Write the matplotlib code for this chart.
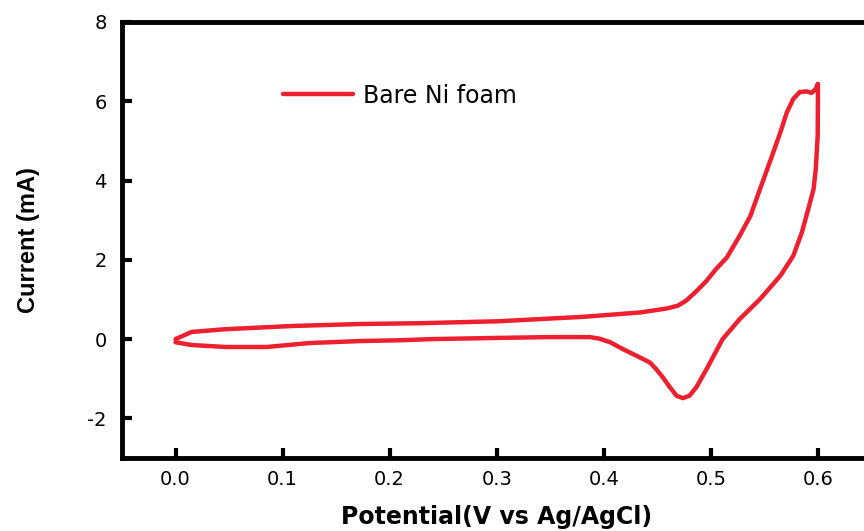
import matplotlib
matplotlib.use("Agg")
import matplotlib.pyplot as plt

plt.rcParams['font.family'] = ['DejaVu Sans']

# Potential (V vs Ag/AgCl) and current (mA) along the CV loop
potential = [0.000, 0.015, 0.047, 0.109, 0.172, 0.228, 0.302, 0.380, 0.4336, 0.4585,
             0.469, 0.477, 0.487, 0.496, 0.505, 0.515, 0.527, 0.537, 0.546, 0.555,
             0.565, 0.571, 0.577, 0.583, 0.5895, 0.594, 0.598, 0.600,
             0.600, 0.5998, 0.598, 0.596, 0.591, 0.585, 0.577, 0.565, 0.546, 0.527,
             0.511, 0.496, 0.4866, 0.480, 0.4738, 0.468, 0.4616, 0.455, 0.449, 0.443,
             0.4305, 0.4177, 0.406, 0.396, 0.387, 0.349, 0.302, 0.240, 0.209, 0.172,
             0.125, 0.085, 0.047, 0.015, 0.000]
current = [0.00, 0.18, 0.25, 0.33, 0.38, 0.40, 0.45, 0.56, 0.67, 0.77,
           0.84, 0.97, 1.22, 1.47, 1.77, 2.06, 2.61, 3.11, 3.79, 4.46,
           5.22, 5.72, 6.06, 6.23, 6.25, 6.21, 6.31, 6.44,
           5.98, 5.13, 4.29, 3.79, 3.28, 2.69, 2.10, 1.60, 1.01, 0.505,
           0.00, -0.76, -1.21, -1.43, -1.49, -1.43, -1.21, -0.96, -0.76, -0.59,
           -0.42, -0.25, -0.08, 0.01, 0.05, 0.05, 0.03, 0.00, -0.03, -0.05,
           -0.10, -0.20, -0.20, -0.15, -0.08]

series_label = "Bare Ni foam"
x_ticks = [0.0, 0.1, 0.2, 0.3, 0.4, 0.5, 0.6]
y_ticks = [-2, 0, 2, 4, 6, 8]

fig = plt.figure(figsize=(8.64, 5.31), dpi=100)
ax = fig.add_axes([0.1412, 0.1375, 0.8674, 0.8211])

ax.plot(potential, current, color='#EE1F2F', lw=3.2, label=series_label,
        solid_joinstyle='round', solid_capstyle='round')

ax.set_xlim(-0.05, 0.65)
ax.set_ylim(-3, 8)
ax.set_xticks(x_ticks)
ax.set_xticklabels([f"{t:.1f}" for t in x_ticks])
ax.set_yticks(y_ticks)
ax.set_yticklabels([str(t) for t in y_ticks])

for s in ax.spines.values():
    s.set_linewidth(3.5)
ax.spines['right'].set_visible(False)

ax.tick_params(direction='in', length=7, width=3, labelsize=14)
ax.tick_params(axis='x', pad=9)
ax.tick_params(axis='y', pad=11)

ax.set_xlabel("Potential(V vs Ag/AgCl)", fontsize=17, fontweight='bold', labelpad=11)
ax.set_ylabel("Current (mA)", fontsize=17, fontweight='bold',
              family=['Liberation Sans', 'DejaVu Sans'])
ax.yaxis.set_label_coords(-0.11, 0.5)

ax.legend(loc='center left', bbox_to_anchor=(0.186, 0.831), frameon=False,
          fontsize=17, handlelength=3.0, handletextpad=0.4)

fig.savefig("out.png", dpi=100)
